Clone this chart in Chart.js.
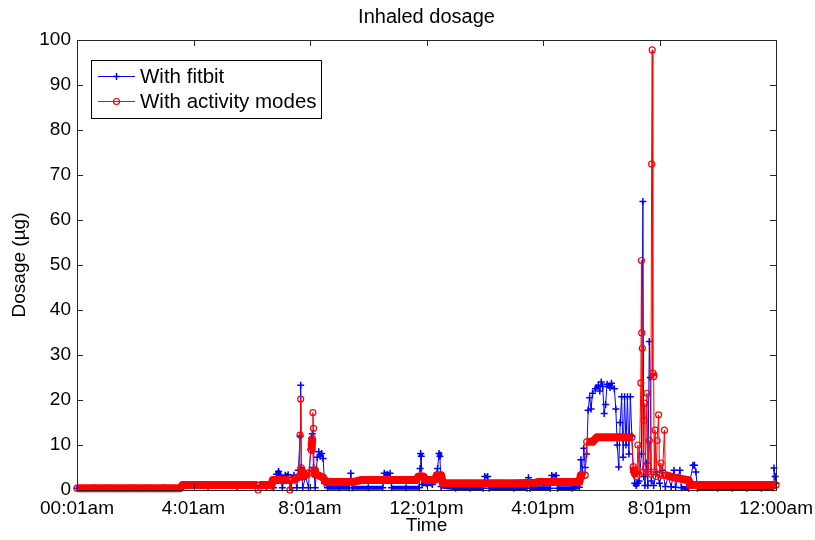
<!DOCTYPE html>
<html>
<head>
<meta charset="utf-8">
<script src="https://cdn.jsdelivr.net/npm/chart.js@4.4.1/dist/chart.umd.min.js"></script>
<style>
  body { margin: 0; background: #fff; }
  #wrap { width: 815px; height: 540px; }
</style>
</head>
<body>
<div id="wrap"><canvas id="doseChart"></canvas></div>
<script>
const timeLabels = ["00:01am", "4:01am", "8:01am", "12:01pm", "4:01pm", "8:01pm", "12:00am"];

// fitbit series (hours since 00:01, dosage in µg)
const fitbitHours = [0, 1, 2, 3, 3.6, 4.5, 5.5, 6.5, 6.75, 6.85, 6.92, 6.98, 7.05, 7.15, 7.25, 7.35, 7.45, 7.55, 7.6, 7.66, 7.68, 7.7, 7.75, 7.85, 7.95,
    8.02, 8.05, 8.08, 8.12, 8.18, 8.25, 8.3, 8.35, 8.4, 8.45, 8.5, 8.6, 9.0, 9.35, 9.4, 9.45, 10.0, 10.5, 10.55, 10.65, 10.75, 10.8, 11.3, 11.75, 11.78, 11.8, 11.82, 11.85,
    12.0, 12.2, 12.38, 12.43, 12.46, 12.5, 13.0, 13.5, 13.95, 14.0, 14.1, 14.15, 15.0, 15.45, 15.5, 15.55, 16.25, 16.3, 16.45, 16.5, 17.0, 17.25, 17.3, 17.35, 17.4, 17.45,
    17.5, 17.55, 17.6, 17.65, 17.7, 17.8, 17.9, 17.95, 18.0, 18.05, 18.1, 18.15, 18.2, 18.3, 18.35, 18.45, 18.5, 18.55, 18.6, 18.65, 18.7, 18.75, 18.8, 18.85, 18.9, 18.95,
    19.0, 19.05, 19.1, 19.15, 19.2, 19.25, 19.3, 19.38, 19.43, 19.46, 19.5, 19.55, 19.6, 19.65, 19.68, 19.72, 19.8, 19.9, 20.0, 20.1, 20.2, 20.3, 20.4, 20.5, 20.55, 20.7, 20.75,
    21.0, 21.15, 21.2, 21.25, 21.3, 22.0, 22.5, 23.0, 23.5, 23.9, 23.93, 23.97, 24.0];
const fitbitDose = [0.4, 0.4, 0.4, 0.4, 0.8, 0.8, 0.8, 0.8, 0.5, 3.5, 4.1, 3.3, 0.5, 3.3, 3.4, 0.5, 3.3, 0.5, 4.4, 12, 23.3, 5, 0.5, 3, 0.5,
    9, 11.5, 12.5, 5, 0.5, 7.3, 8.5, 7.5, 8.1, 7, 1.5, 0.5, 0.5, 0.5, 3.7, 0.5, 0.5, 0.5, 3.7, 3.5, 3.7, 0.5, 0.5, 0.5, 4.8, 8.1, 7.5, 1.2,
    1.4, 1.2, 4.8, 8.1, 7.5, 0.8, 0.4, 0.4, 0.4, 3, 3, 0.4, 0.4, 0.4, 2.7, 0.4, 0.4, 3.2, 3.2, 0.4, 0.4, 0.6, 6.7, 3.8, 9.3, 5,
    8, 17.7, 20.5, 18, 21.5, 22.5, 23.3, 22, 24, 23, 17, 19, 23.5, 22.8, 23.7, 22.5, 18, 10, 5.1, 15, 20.7, 7.3, 20.7, 10, 20.7, 8,
    20.7, 12, 4, 1.5, 1, 1.5, 2, 8, 64.1, 3, 1, 6, 1, 33, 25, 2, 1, 4, 1.5, 4.4, 0.8, 3, 0.7, 4.4, 0.6, 4.4, 0.5,
    0.4, 5.5, 5.5, 4, 0.4, 0.4, 0.4, 0.4, 0.4, 0.5, 4.9, 3, 1.5];

// activity modes series
const modesHours = [0, 0.6, 1.2, 1.8, 2.4, 3.0, 3.55, 3.62, 4.2, 4.8, 5.4, 6.0, 6.18, 6.22, 6.26, 6.5, 6.68, 6.72, 7.0, 7.28, 7.31, 7.34, 7.5, 7.62, 7.66, 7.68, 7.7, 7.75, 7.85, 7.95,
    8.04, 8.06, 8.08, 8.1, 8.12, 8.14, 8.17, 8.3, 8.45, 8.54, 9.0, 9.5, 9.75, 10.25, 10.75, 11.25, 11.65, 11.72, 11.9, 11.97, 12.3, 12.35, 12.5, 12.56,
    13.0, 13.5, 14.0, 14.5, 15.0, 15.75, 15.85, 16.3, 16.8, 17.25, 17.3, 17.45, 17.5, 17.7, 17.85, 18.2, 18.6, 19.05, 19.1, 19.15, 19.22, 19.26, 19.3,
    19.36, 19.38, 19.39, 19.41, 19.44, 19.47, 19.49, 19.52, 19.57, 19.6, 19.65, 19.7, 19.73, 19.75, 19.77, 19.8, 19.82, 19.85, 19.88, 19.92, 19.97,
    20.0, 20.05, 20.1, 20.17, 20.2, 20.5, 20.8, 21.0, 21.05, 21.6, 22.2, 22.8, 23.4, 24.0];
const modesDose = [0.4, 0.4, 0.4, 0.4, 0.4, 0.4, 0.4, 1.1, 1.1, 1.1, 1.1, 1.1, 1.1, 0, 1.1, 1.1, 1.1, 2.2, 2.2, 2.2, 0, 2.2, 2.4, 3, 12.2, 20.2, 4.9, 3, 3.3, 3.8,
    8.9, 10, 11.5, 17.2, 13.7, 4.4, 3.5, 3.2, 2.8, 1.8, 1.8, 1.8, 2.2, 2.2, 2.2, 2.2, 2.2, 3, 3, 2.2, 2.3, 3.3, 3.3, 1.5,
    1.5, 1.5, 1.5, 1.5, 1.5, 1.6, 1.8, 1.8, 1.8, 1.8, 3.3, 3.3, 10.7, 10.7, 11.7, 11.7, 11.7, 11.7, 5.2, 3.7, 3, 10, 3.5,
    23.8, 51, 34.9, 31.5, 4, 15.5, 19.3, 5, 21.5, 4, 11, 3.5, 72.4, 97.8, 26, 25.2, 4, 13.3, 3, 11, 16.7,
    3.5, 6, 3.3, 13.3, 3.3, 2.8, 2.4, 2.2, 1.1, 1.1, 1.1, 1.1, 1.1, 1.1];

const FONT = "'Liberation Sans', Arial, sans-serif";

// matlab-style box, inward ticks and legend
const boxPlugin = {
    id: "box",
    afterDatasetsDraw(chart) {
        const ctx = chart.ctx;
        const a = chart.chartArea;
        const xs = chart.scales.x, ys = chart.scales.y;
        ctx.save();
        ctx.strokeStyle = "#262626";
        ctx.lineWidth = 1;
        ctx.strokeRect(a.left + 0.5, a.top + 0.5, a.right - a.left, a.bottom - a.top);
        ctx.beginPath();
        xs.ticks.forEach(t => {
            const px = Math.round(xs.getPixelForValue(t.value)) + 0.5;
            ctx.moveTo(px, a.bottom); ctx.lineTo(px, a.bottom - 6);
            ctx.moveTo(px, a.top); ctx.lineTo(px, a.top + 6);
        });
        ys.ticks.forEach(t => {
            const py = Math.round(ys.getPixelForValue(t.value)) + 0.5;
            ctx.moveTo(a.left, py); ctx.lineTo(a.left + 6, py);
            ctx.moveTo(a.right, py); ctx.lineTo(a.right - 6, py);
        });
        ctx.stroke();

        // legend
        const lx = 91, ly = 60, lw = 230, lh = 58;
        ctx.fillStyle = "#fff";
        ctx.fillRect(lx, ly, lw, lh);
        ctx.strokeStyle = "#000";
        ctx.strokeRect(lx + 0.5, ly + 0.5, lw, lh);
        const rows = [
            { label: "With fitbit", color: "#0000ff", y: 76 },
            { label: "With activity modes", color: "#ff0000", y: 101 }
        ];
        rows.forEach((r, i) => {
            ctx.strokeStyle = r.color;
            ctx.lineWidth = 1;
            ctx.beginPath();
            ctx.moveTo(98, r.y + 0.5); ctx.lineTo(135, r.y + 0.5);
            ctx.stroke();
            ctx.beginPath();
            if (i === 0) {
                ctx.lineWidth = 1.5;
                ctx.moveTo(113, r.y + 0.5); ctx.lineTo(120, r.y + 0.5);
                ctx.moveTo(116.5, r.y - 3); ctx.lineTo(116.5, r.y + 4);
            } else {
                ctx.lineWidth = 1.2;
                ctx.arc(116.5, r.y + 0.5, 3, 0, Math.PI * 2);
            }
            ctx.stroke();
            ctx.fillStyle = "#000";
            ctx.font = "20.5px " + FONT;
            ctx.textBaseline = "middle";
            ctx.fillText(r.label, 140, r.y + 1);
        });
        ctx.restore();
    }
};

const toPoints = (hours, vals) => hours.map((h, i) => ({ x: h, y: vals[i] }));

// flat stretches are drawn thick, like the overlapping markers of the original
const flatWidth = (limit, wide) => c => {
    const a = c.p0.parsed.y, b = c.p1.parsed.y;
    return (a > 0.2 && b > 0.2 && Math.abs(a - b) < limit) ? wide : 1;
};

new Chart(document.getElementById("doseChart"), {
    type: "line",
    data: {
        datasets: [{
            label: "With activity modes",
            data: toPoints(modesHours, modesDose),
            borderColor: "#ff0000",
            borderWidth: 1,
            borderJoinStyle: "round",
            pointStyle: "circle",
            pointRadius: 3,
            pointBorderWidth: 1.2,
            pointBorderColor: "#ff0000",
            pointBackgroundColor: "rgba(0,0,0,0)",
            order: 0,
            clip: false,
            segment: { borderWidth: flatWidth(2, 8) }
        }, {
            label: "With fitbit",
            data: toPoints(fitbitHours, fitbitDose),
            borderColor: "#0000ff",
            borderWidth: 1,
            borderJoinStyle: "round",
            pointStyle: "cross",
            pointRadius: 3.5,
            pointBorderWidth: 1.5,
            pointBorderColor: "#0000ff",
            order: 1,
            clip: false,
            segment: { borderWidth: flatWidth(1, 4) }
        }]
    },
    options: {
        responsive: true,
        maintainAspectRatio: false,
        animation: false,
        layout: { padding: { left: 0, right: 39, top: 0, bottom: 0 } },
        plugins: {
            legend: { display: false },
            tooltip: { enabled: false },
            title: {
                display: true,
                text: "Inhaled dosage",
                fullSize: false,
                color: "#000",
                font: { family: FONT, size: 20, weight: "normal" },
                padding: { top: 5, bottom: 11 }
            }
        },
        scales: {
            x: {
                type: "linear",
                min: 0,
                max: 24,
                grid: { display: false, drawTicks: false },
                border: { display: false },
                ticks: {
                    stepSize: 4,
                    color: "#000",
                    padding: 7,
                    maxRotation: 0,
                    font: { family: FONT, size: 19 },
                    callback: v => timeLabels[v / 4]
                },
                title: {
                    display: true,
                    text: "Time",
                    color: "#000",
                    font: { family: FONT, size: 19 },
                    padding: { top: 0, bottom: 3 }
                },
                afterFit: s => { s.height = 50; s.paddingRight = 0; s.paddingLeft = 0; }
            },
            y: {
                min: 0,
                max: 100,
                grid: { display: false, drawTicks: false },
                border: { display: false },
                ticks: {
                    stepSize: 10,
                    color: "#000",
                    padding: 6,
                    font: { family: FONT, size: 19 }
                },
                title: {
                    display: true,
                    text: "Dosage (µg)",
                    color: "#000",
                    font: { family: FONT, size: 19 },
                    padding: { top: 8, bottom: 0 }
                },
                afterFit: s => { s.width = 77; }
            }
        }
    },
    plugins: [boxPlugin]
});
</script>
</body>
</html>
